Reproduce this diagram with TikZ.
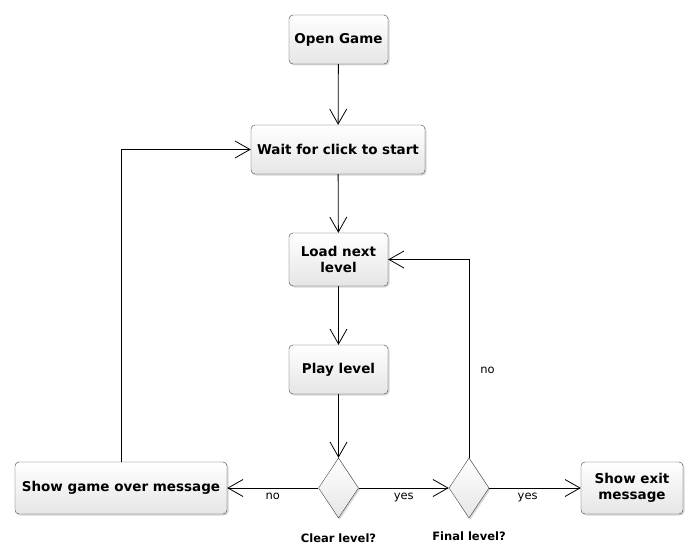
\documentclass[tikz,border=0pt]{standalone}
\usepackage{fontspec}
\setmainfont{DejaVu Sans}
\usetikzlibrary{shapes.geometric}
\usetikzlibrary{arrows.meta}
\usetikzlibrary{shadows}
\tikzset{
    action/.style = {rectangle, rounded corners=4pt, draw=black!75, top color=white, bottom color=black!10,
        drop shadow={shadow xshift=1.5pt, shadow yshift=-1.5pt, opacity=0.3},
        font=\fontsize{13.5}{16}\bfseries, align=center, inner sep=0pt},
    choice/.style = {diamond, draw=black!75, top color=white, bottom color=black!10,
        drop shadow={shadow xshift=1.5pt, shadow yshift=-1.5pt, opacity=0.3},
        minimum width=40pt, minimum height=60pt, inner sep=0pt},
    guard/.style = {font=\fontsize{11.5}{13}\selectfont, inner sep=5pt},
    caption/.style = {font=\fontsize{11.5}{13}\bfseries},
    flow/.style = {line width=0.8pt, -{Straight Barb[length=15pt, width=17pt]}}}
\begin{document}
\begin{tikzpicture}[x=1pt, y=-1pt]
        \useasboundingbox (0,0) rectangle (695,559);
        \path (338.5,39.5) node[action, minimum width=99pt, minimum height=49pt] (open) {Open Game}
        (338,149.5) node[action, minimum width=174pt, minimum height=49pt] (wait) {Wait for click to start}
        (338.5,259.5) node[action, minimum width=99pt, minimum height=53pt] (load) {Load next\\level}
        (338.5,369.5) node[action, minimum width=99pt, minimum height=49pt] (play) {Play level}
        (338.5,488) node[choice] (clear) {}
        (469,488) node[choice] (final) {}
        (121,488) node[action, minimum width=212pt, minimum height=52pt] (over) {Show game over message}
        (632,488) node[action, minimum width=102pt, minimum height=52pt] (exit) {Show exit\\message}
        (338.5,538) node[caption] (clearq) {Clear level?}
        (469,536) node[caption] (finalq) {Final level?};
        \draw[flow] (open) -- (wait);
        \draw[flow] (wait) -- (load);
        \draw[flow] (load) -- (play);
        \draw[flow] (play) -- (clear);
        \draw[flow] (clear) -- node[guard, below] {no} (over);
        \draw[flow] (clear) -- node[guard, below] {yes} (final);
        \draw[flow] (final) -- node[guard, below, pos=0.42] {yes} (exit);
        \draw[flow] (final.north) |- node[guard, right, pos=0.22, xshift=6pt] {no} (load.east);
        \draw[flow] (over.north) |- (wait.west);
\end{tikzpicture}
\end{document}
